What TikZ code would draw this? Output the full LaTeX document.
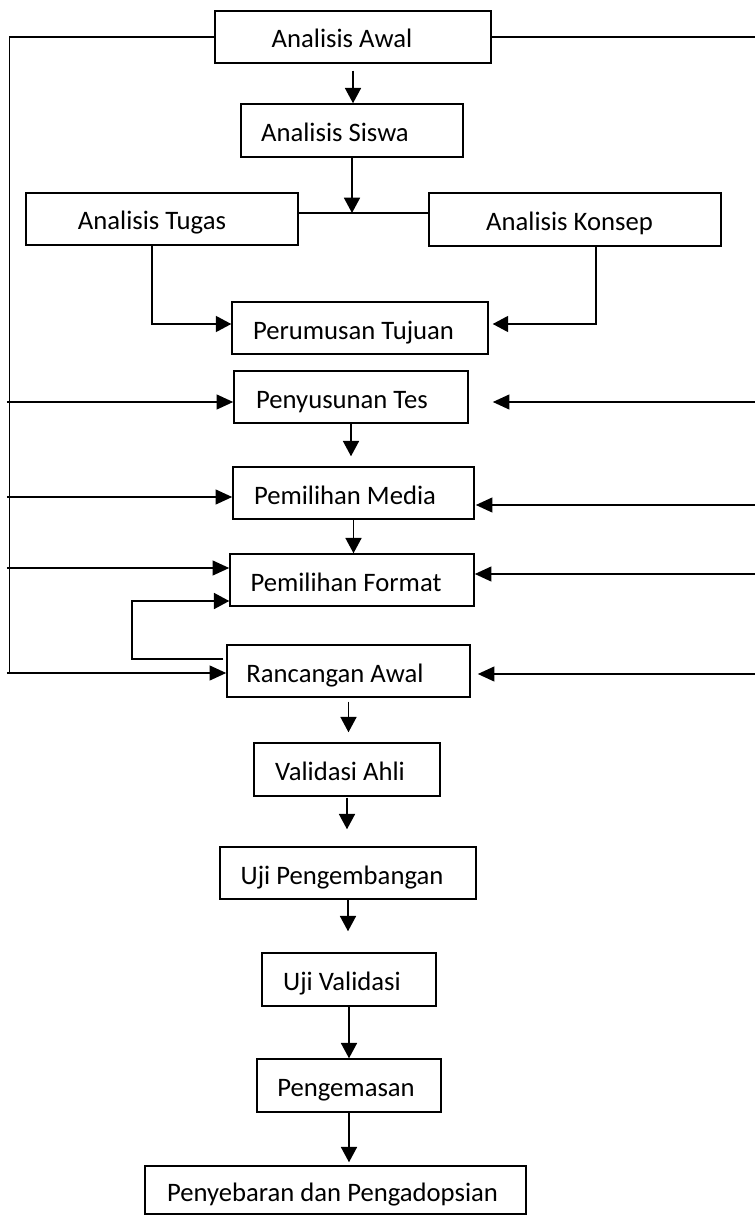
\documentclass[tikz,border=0pt]{standalone}
\usepackage{fontspec}
\setmainfont{Carlito}
\usetikzlibrary{arrows.meta,calc}
\tikzset{
  box/.style={draw,line width=1.1pt,inner sep=0pt,text height=16.5pt,text depth=0pt,
    font=\fontsize{20}{24}\selectfont},
  arr/.style={-{Triangle[length=11.5pt,width=12pt]},line width=1.3pt},
  arrbold/.style={-{Triangle[length=12.5pt,width=11pt]},line width=1.7pt},
  link/.style={line width=1pt}
}
\begin{document}
\begin{tikzpicture}[x=0.75pt,y=-0.75pt]
\path[use as bounding box] (0,0) rectangle (755,1216);
\foreach \n/\cx/\cy/\w/\h/\tx/\txt in {
awal/353/37/276/52/16.5/{Analisis Awal},
siswa/352/130.5/222/53/25.5/{Analisis Siswa},
tugas/162/219/272/52/15/{Analisis Tugas},
konsep/575/219.5/292/53/8.25/{Analisis Konsep},
tujuan/360/328/256/52/9.75/{Perumusan Tujuan},
tes/351/397/234/52/13.5/{Penyusunan Tes},
media/353.5/493/241/52/12.75/{Pemilihan Media},
fmt/352/580/244/52/9/{Pemilihan Format},
ranc/348.5/671/243/52/20.25/{Rancangan Awal},
ahli/347/769.5/186/53/10.5/{Validasi Ahli},
ujipeng/348/873/256/52/9/{Uji Pengembangan},
ujival/349/979.5/174/53/10.5/{Uji Validasi},
kemas/349/1085.5/184/53/4.5/{Pengemasan},
sebar/335.5/1190/381/48/4.5/{Penyebaran dan Pengadopsian}}
{
\node[box,minimum width=\w*0.75pt,minimum height=\h*0.75pt] (\n) at (\cx,\cy) {\txt\hspace*{\tx pt}};
}
% main chain
\foreach \a/\b/\s/\g in {awal/siswa/5.25pt/0pt,tes/media/0pt/7.5pt,media/fmt/0pt/0pt,
ranc/ahli/3pt/7.5pt,ahli/ujipeng/0.75pt/12.75pt,ujipeng/ujival/0pt/15.75pt,
ujival/kemas/0pt/0pt,kemas/sebar/0pt/2.25pt}
\draw[arr,shorten <=\s,shorten >=\g] (\a.south) -- (\a.south |- \b.north);
% branch to tugas and konsep
\coordinate (jn) at (352,213);
\draw[arr] (siswa.south) -- (jn);
\draw[link] (tugas.east |- jn) -- (konsep.west |- jn);
\draw[arr,line width=1pt] ($(tugas.south)+(-10,0)$) |- ($(tujuan.west)+(0,-4)$);
\draw[arr,line width=1pt] ($(konsep.south)+(21,0)$) |- ($(tujuan.east)+(4,-4)$);
% feedback lines
\coordinate (lbot) at (9.5,673);
\coordinate (rt) at (756,39);
\draw[link] (awal.west) -| (lbot);
\draw[link] (awal.east) -- (awal.east -| rt);
\foreach \n/\dy in {tes/5,media/4,fmt/-12,ranc/2}{
\path ($(\n.west)+(0,\dy)$) coordinate (\n-l);
\draw[arrbold] ([xshift=-2pt]\n-l -| lbot) -- (\n-l);
}
\foreach \n/\dx/\dy in {tes/24/5,media/1/12,fmt/0/-6,ranc/7/3}{
\path ($(\n.east)+(\dx,\dy)$) coordinate (\n-r);
\draw[arrbold] (\n-r -| rt) -- (\n-r);
}
\path ($(fmt.west)+(0,21)$) coordinate (fmt-b);
\draw[arr] ($(ranc.west)+(-3,-12)$) -- ++(-91,0) |- (fmt-b);
\end{tikzpicture}
\end{document}
